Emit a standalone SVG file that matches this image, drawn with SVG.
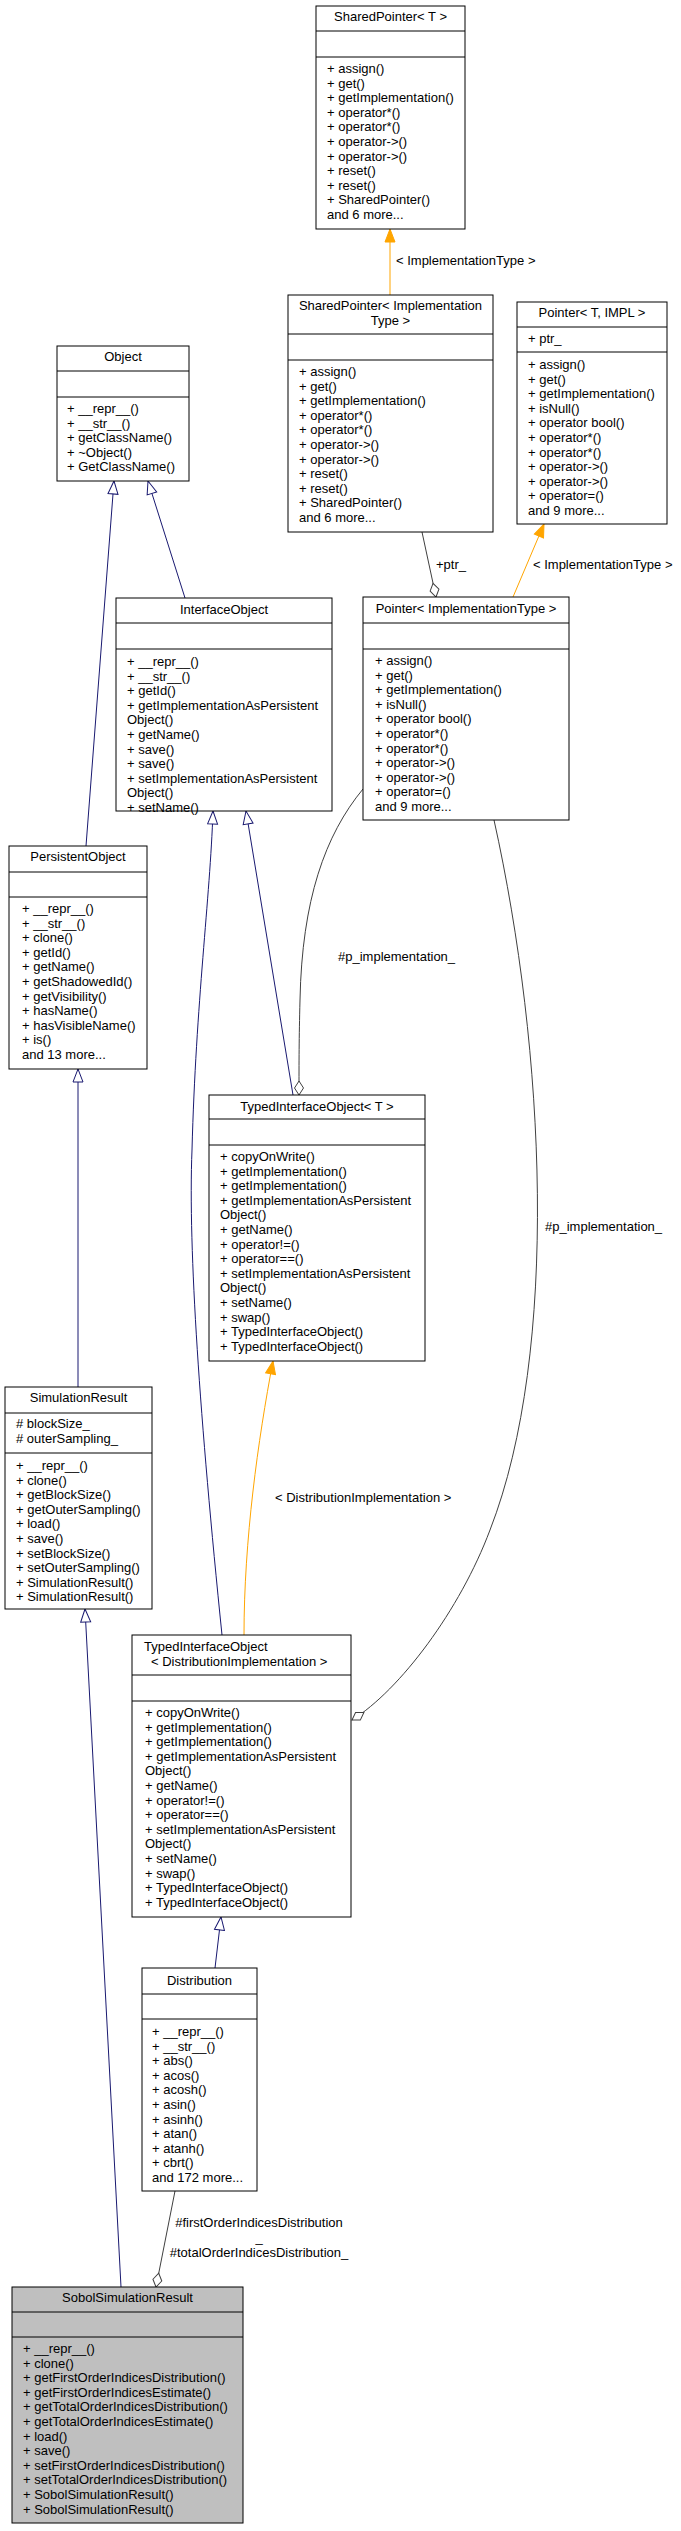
<svg xmlns="http://www.w3.org/2000/svg" width="681" height="2531" viewBox="0 0 681 2531">
<style>
text{font-family:"Liberation Sans",Arial,sans-serif;font-size:13px;fill:#000}
.box{fill:#fff;stroke:#000;stroke-width:1}
.cur{fill:#bfbfbf;stroke:#000;stroke-width:1}
.sep{stroke:#000;stroke-width:1}
.mid{text-anchor:middle}
.inh{fill:none;stroke:#191970;stroke-width:1}
.agg{fill:none;stroke:#404040;stroke-width:1}
.tpl{fill:none;stroke:#ffa500;stroke-width:1}
</style>
<defs>
<marker id="mInh" markerUnits="userSpaceOnUse" viewBox="0 0 16 12" markerWidth="16" markerHeight="12" refX="14" refY="6" orient="auto"><path d="M1,1 L14,6 L1,11 z" fill="#fff" stroke="#191970"/></marker>
<marker id="mTpl" markerUnits="userSpaceOnUse" viewBox="0 0 16 12" markerWidth="16" markerHeight="12" refX="14" refY="6" orient="auto"><path d="M1,1 L14,6 L1,11 z" fill="#ffa500" stroke="#ffa500"/></marker>
<marker id="mAgg" markerUnits="userSpaceOnUse" viewBox="0 0 16 12" markerWidth="16" markerHeight="12" refX="15" refY="6" orient="auto"><path d="M1,6 L8,1.5 L15,6 L8,10.5 z" fill="#fff" stroke="#404040"/></marker>
</defs>

<g id="connectors">
<path class="tpl" d="M390,295 L390,229" marker-end="url(#mTpl)"/>
<text x="396" y="265">&lt; ImplementationType &gt;</text>
<path class="agg" d="M422,532 L436,597" marker-end="url(#mAgg)"/>
<text x="436" y="569">+ptr_</text>
<path class="tpl" d="M513,597 L544,524" marker-end="url(#mTpl)"/>
<text x="533" y="569">&lt; ImplementationType &gt;</text>
<path class="inh" d="M86,846 L114,481" marker-end="url(#mInh)"/>
<path class="inh" d="M185,598 L148,481" marker-end="url(#mInh)"/>
<path class="inh" d="M293,1095 L246,811" marker-end="url(#mInh)"/>
<path class="inh" d="M222,1635 C200,1420 188,1250 192,1150 C196,1000 210,900 213,811" marker-end="url(#mInh)"/>
<path class="agg" d="M363,789 C325,835 302,900 300,1000 C299,1040 299,1060 299,1095" marker-end="url(#mAgg)"/>
<text x="338" y="961">#p_implementation_</text>
<path class="agg" d="M494,820 C545,1050 560,1350 490,1530 C460,1610 400,1690 352,1720" marker-end="url(#mAgg)"/>
<text x="545" y="1231">#p_implementation_</text>
<path class="tpl" d="M244,1635 C244,1540 258,1440 273,1361" marker-end="url(#mTpl)"/>
<text x="275" y="1502">&lt; DistributionImplementation &gt;</text>
<path class="inh" d="M78,1387 L78,1069" marker-end="url(#mInh)"/>
<path class="inh" d="M121,2287 L85,1609" marker-end="url(#mInh)"/>
<path class="inh" d="M215,1968 L221,1917" marker-end="url(#mInh)"/>
<path class="agg" d="M175,2191 L156,2287" marker-end="url(#mAgg)"/>
<text class="mid" x="259" y="2227">#firstOrderIndicesDistribution</text>
<text class="mid" x="259" y="2242">_</text>
<text class="mid" x="259" y="2257">#totalOrderIndicesDistribution_</text>
</g>

<g id="SharedPointerT">
<rect class="box" x="316" y="6" width="149" height="223"/>
<line class="sep" x1="316" y1="31" x2="465" y2="31"/>
<line class="sep" x1="316" y1="57" x2="465" y2="57"/>
<text class="mid" x="390.5" y="21">SharedPointer&lt; T &gt;</text>
<text x="327" y="73"><tspan x="327">+ assign()</tspan><tspan x="327" dy="14.6">+ get()</tspan><tspan x="327" dy="14.6">+ getImplementation()</tspan><tspan x="327" dy="14.6">+ operator*()</tspan><tspan x="327" dy="14.6">+ operator*()</tspan><tspan x="327" dy="14.6">+ operator-&gt;()</tspan><tspan x="327" dy="14.6">+ operator-&gt;()</tspan><tspan x="327" dy="14.6">+ reset()</tspan><tspan x="327" dy="14.6">+ reset()</tspan><tspan x="327" dy="14.6">+ SharedPointer()</tspan><tspan x="327" dy="14.6">and 6 more...</tspan></text>
</g>

<g id="SharedPointerIT">
<rect class="box" x="288" y="295" width="205" height="237"/>
<line class="sep" x1="288" y1="334" x2="493" y2="334"/>
<line class="sep" x1="288" y1="360" x2="493" y2="360"/>
<text class="mid" x="390.5" y="310">SharedPointer&lt; Implementation</text>
<text class="mid" x="390.5" y="325">Type &gt;</text>
<text x="299" y="376"><tspan x="299">+ assign()</tspan><tspan x="299" dy="14.6">+ get()</tspan><tspan x="299" dy="14.6">+ getImplementation()</tspan><tspan x="299" dy="14.6">+ operator*()</tspan><tspan x="299" dy="14.6">+ operator*()</tspan><tspan x="299" dy="14.6">+ operator-&gt;()</tspan><tspan x="299" dy="14.6">+ operator-&gt;()</tspan><tspan x="299" dy="14.6">+ reset()</tspan><tspan x="299" dy="14.6">+ reset()</tspan><tspan x="299" dy="14.6">+ SharedPointer()</tspan><tspan x="299" dy="14.6">and 6 more...</tspan></text>
</g>

<g id="PointerTIMPL">
<rect class="box" x="517" y="302" width="150" height="222"/>
<line class="sep" x1="517" y1="327" x2="667" y2="327"/>
<line class="sep" x1="517" y1="352" x2="667" y2="352"/>
<text class="mid" x="592" y="317">Pointer&lt; T, IMPL &gt;</text>
<text x="528" y="343">+ ptr_</text>
<text x="528" y="369"><tspan x="528">+ assign()</tspan><tspan x="528" dy="14.6">+ get()</tspan><tspan x="528" dy="14.6">+ getImplementation()</tspan><tspan x="528" dy="14.6">+ isNull()</tspan><tspan x="528" dy="14.6">+ operator bool()</tspan><tspan x="528" dy="14.6">+ operator*()</tspan><tspan x="528" dy="14.6">+ operator*()</tspan><tspan x="528" dy="14.6">+ operator-&gt;()</tspan><tspan x="528" dy="14.6">+ operator-&gt;()</tspan><tspan x="528" dy="14.6">+ operator=()</tspan><tspan x="528" dy="14.6">and 9 more...</tspan></text>
</g>

<g id="Object">
<rect class="box" x="57" y="346" width="132" height="135"/>
<line class="sep" x1="57" y1="371" x2="189" y2="371"/>
<line class="sep" x1="57" y1="397" x2="189" y2="397"/>
<text class="mid" x="123" y="361">Object</text>
<text x="67" y="413"><tspan x="67">+ __repr__()</tspan><tspan x="67" dy="14.6">+ __str__()</tspan><tspan x="67" dy="14.6">+ getClassName()</tspan><tspan x="67" dy="14.6">+ ~Object()</tspan><tspan x="67" dy="14.6">+ GetClassName()</tspan></text>
</g>

<g id="InterfaceObject">
<rect class="box" x="116" y="598" width="216" height="213"/>
<line class="sep" x1="116" y1="623" x2="332" y2="623"/>
<line class="sep" x1="116" y1="649" x2="332" y2="649"/>
<text class="mid" x="224" y="614">InterfaceObject</text>
<text x="127" y="666"><tspan x="127">+ __repr__()</tspan><tspan x="127" dy="14.6">+ __str__()</tspan><tspan x="127" dy="14.6">+ getId()</tspan><tspan x="127" dy="14.6">+ getImplementationAsPersistent</tspan><tspan x="127" dy="14.6">Object()</tspan><tspan x="127" dy="14.6">+ getName()</tspan><tspan x="127" dy="14.6">+ save()</tspan><tspan x="127" dy="14.6">+ save()</tspan><tspan x="127" dy="14.6">+ setImplementationAsPersistent</tspan><tspan x="127" dy="14.6">Object()</tspan><tspan x="127" dy="14.6">+ setName()</tspan></text>
</g>

<g id="PointerIT">
<rect class="box" x="363" y="597" width="206" height="223"/>
<line class="sep" x1="363" y1="623" x2="569" y2="623"/>
<line class="sep" x1="363" y1="649" x2="569" y2="649"/>
<text class="mid" x="466" y="613">Pointer&lt; ImplementationType &gt;</text>
<text x="375" y="665"><tspan x="375">+ assign()</tspan><tspan x="375" dy="14.6">+ get()</tspan><tspan x="375" dy="14.6">+ getImplementation()</tspan><tspan x="375" dy="14.6">+ isNull()</tspan><tspan x="375" dy="14.6">+ operator bool()</tspan><tspan x="375" dy="14.6">+ operator*()</tspan><tspan x="375" dy="14.6">+ operator*()</tspan><tspan x="375" dy="14.6">+ operator-&gt;()</tspan><tspan x="375" dy="14.6">+ operator-&gt;()</tspan><tspan x="375" dy="14.6">+ operator=()</tspan><tspan x="375" dy="14.6">and 9 more...</tspan></text>
</g>

<g id="PersistentObject">
<rect class="box" x="9" y="846" width="138" height="223"/>
<line class="sep" x1="9" y1="872" x2="147" y2="872"/>
<line class="sep" x1="9" y1="897" x2="147" y2="897"/>
<text class="mid" x="78" y="861">PersistentObject</text>
<text x="22" y="913"><tspan x="22">+ __repr__()</tspan><tspan x="22" dy="14.6">+ __str__()</tspan><tspan x="22" dy="14.6">+ clone()</tspan><tspan x="22" dy="14.6">+ getId()</tspan><tspan x="22" dy="14.6">+ getName()</tspan><tspan x="22" dy="14.6">+ getShadowedId()</tspan><tspan x="22" dy="14.6">+ getVisibility()</tspan><tspan x="22" dy="14.6">+ hasName()</tspan><tspan x="22" dy="14.6">+ hasVisibleName()</tspan><tspan x="22" dy="14.6">+ is()</tspan><tspan x="22" dy="14.6">and 13 more...</tspan></text>
</g>

<g id="TypedInterfaceObjectT">
<rect class="box" x="209" y="1095" width="216" height="266"/>
<line class="sep" x1="209" y1="1119" x2="425" y2="1119"/>
<line class="sep" x1="209" y1="1145" x2="425" y2="1145"/>
<text class="mid" x="317" y="1111">TypedInterfaceObject&lt; T &gt;</text>
<text x="220" y="1161"><tspan x="220">+ copyOnWrite()</tspan><tspan x="220" dy="14.6">+ getImplementation()</tspan><tspan x="220" dy="14.6">+ getImplementation()</tspan><tspan x="220" dy="14.6">+ getImplementationAsPersistent</tspan><tspan x="220" dy="14.6">Object()</tspan><tspan x="220" dy="14.6">+ getName()</tspan><tspan x="220" dy="14.6">+ operator!=()</tspan><tspan x="220" dy="14.6">+ operator==()</tspan><tspan x="220" dy="14.6">+ setImplementationAsPersistent</tspan><tspan x="220" dy="14.6">Object()</tspan><tspan x="220" dy="14.6">+ setName()</tspan><tspan x="220" dy="14.6">+ swap()</tspan><tspan x="220" dy="14.6">+ TypedInterfaceObject()</tspan><tspan x="220" dy="14.6">+ TypedInterfaceObject()</tspan></text>
</g>

<g id="SimulationResult">
<rect class="box" x="5" y="1387" width="147" height="222"/>
<line class="sep" x1="5" y1="1413" x2="152" y2="1413"/>
<line class="sep" x1="5" y1="1453" x2="152" y2="1453"/>
<text class="mid" x="78.5" y="1402">SimulationResult</text>
<text x="16" y="1428"><tspan x="16"># blockSize_</tspan><tspan x="16" dy="14.6"># outerSampling_</tspan></text>
<text x="16" y="1470"><tspan x="16">+ __repr__()</tspan><tspan x="16" dy="14.6">+ clone()</tspan><tspan x="16" dy="14.6">+ getBlockSize()</tspan><tspan x="16" dy="14.6">+ getOuterSampling()</tspan><tspan x="16" dy="14.6">+ load()</tspan><tspan x="16" dy="14.6">+ save()</tspan><tspan x="16" dy="14.6">+ setBlockSize()</tspan><tspan x="16" dy="14.6">+ setOuterSampling()</tspan><tspan x="16" dy="14.6">+ SimulationResult()</tspan><tspan x="16" dy="14.6">+ SimulationResult()</tspan></text>
</g>

<g id="TypedInterfaceObjectDI">
<rect class="box" x="132" y="1635" width="219" height="282"/>
<line class="sep" x1="132" y1="1675" x2="351" y2="1675"/>
<line class="sep" x1="132" y1="1701" x2="351" y2="1701"/>
<text x="144" y="1651">TypedInterfaceObject</text>
<text x="151" y="1666">&lt; DistributionImplementation &gt;</text>
<text x="145" y="1717"><tspan x="145">+ copyOnWrite()</tspan><tspan x="145" dy="14.6">+ getImplementation()</tspan><tspan x="145" dy="14.6">+ getImplementation()</tspan><tspan x="145" dy="14.6">+ getImplementationAsPersistent</tspan><tspan x="145" dy="14.6">Object()</tspan><tspan x="145" dy="14.6">+ getName()</tspan><tspan x="145" dy="14.6">+ operator!=()</tspan><tspan x="145" dy="14.6">+ operator==()</tspan><tspan x="145" dy="14.6">+ setImplementationAsPersistent</tspan><tspan x="145" dy="14.6">Object()</tspan><tspan x="145" dy="14.6">+ setName()</tspan><tspan x="145" dy="14.6">+ swap()</tspan><tspan x="145" dy="14.6">+ TypedInterfaceObject()</tspan><tspan x="145" dy="14.6">+ TypedInterfaceObject()</tspan></text>
</g>

<g id="Distribution">
<rect class="box" x="142" y="1968" width="115" height="223"/>
<line class="sep" x1="142" y1="1994" x2="257" y2="1994"/>
<line class="sep" x1="142" y1="2019" x2="257" y2="2019"/>
<text class="mid" x="199.5" y="1985">Distribution</text>
<text x="152" y="2036"><tspan x="152">+ __repr__()</tspan><tspan x="152" dy="14.6">+ __str__()</tspan><tspan x="152" dy="14.6">+ abs()</tspan><tspan x="152" dy="14.6">+ acos()</tspan><tspan x="152" dy="14.6">+ acosh()</tspan><tspan x="152" dy="14.6">+ asin()</tspan><tspan x="152" dy="14.6">+ asinh()</tspan><tspan x="152" dy="14.6">+ atan()</tspan><tspan x="152" dy="14.6">+ atanh()</tspan><tspan x="152" dy="14.6">+ cbrt()</tspan><tspan x="152" dy="14.6">and 172 more...</tspan></text>
</g>

<g id="SobolSimulationResult">
<rect class="cur" x="12" y="2287" width="231" height="236"/>
<line class="sep" x1="12" y1="2312" x2="243" y2="2312"/>
<line class="sep" x1="12" y1="2337" x2="243" y2="2337"/>
<text class="mid" x="127.5" y="2302">SobolSimulationResult</text>
<text x="23" y="2353"><tspan x="23">+ __repr__()</tspan><tspan x="23" dy="14.6">+ clone()</tspan><tspan x="23" dy="14.6">+ getFirstOrderIndicesDistribution()</tspan><tspan x="23" dy="14.6">+ getFirstOrderIndicesEstimate()</tspan><tspan x="23" dy="14.6">+ getTotalOrderIndicesDistribution()</tspan><tspan x="23" dy="14.6">+ getTotalOrderIndicesEstimate()</tspan><tspan x="23" dy="14.6">+ load()</tspan><tspan x="23" dy="14.6">+ save()</tspan><tspan x="23" dy="14.6">+ setFirstOrderIndicesDistribution()</tspan><tspan x="23" dy="14.6">+ setTotalOrderIndicesDistribution()</tspan><tspan x="23" dy="14.6">+ SobolSimulationResult()</tspan><tspan x="23" dy="14.6">+ SobolSimulationResult()</tspan></text>
</g>
</svg>
